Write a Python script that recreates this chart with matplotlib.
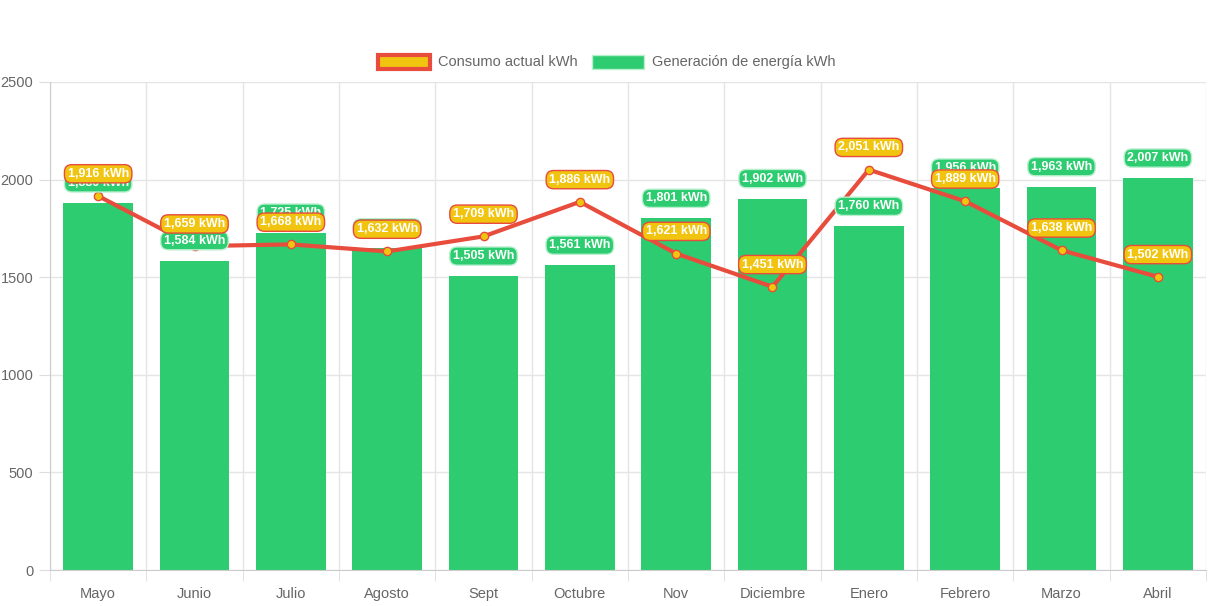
import matplotlib.pyplot as plt
from matplotlib.patches import Patch

meses = ['Mayo', 'Junio', 'Julio', 'Agosto', 'Sept', 'Octubre', 'Nov',
         'Diciembre', 'Enero', 'Febrero', 'Marzo', 'Abril']
generacion = [1880, 1584, 1725, 1650, 1505, 1561, 1801, 1902, 1760, 1956, 1963, 2007]
consumo = [1916, 1659, 1668, 1632, 1709, 1886, 1621, 1451, 2051, 1889, 1638, 1502]

verde = '#2ecc71'
rojo = '#e74c3c'
amarillo = '#f1c40f'
gris = '#666666'

plt.rcParams['font.family'] = ['Liberation Sans', 'DejaVu Sans']

fig = plt.figure(figsize=(12.13, 6.06), dpi=100)
ax = fig.add_axes([50 / 1213, 1 - 570 / 606, 1156 / 1213, 488 / 606])

x = list(range(len(meses)))
ax.bar(x, generacion, width=0.72, color=verde, zorder=2)
ax.plot(x, consumo, color=rojo, linewidth=3, zorder=3,
        marker='o', markersize=6, markerfacecolor=amarillo,
        markeredgecolor=rojo, markeredgewidth=1)

# etiquetas de datos (se solapan igual que en el original)
for i, v in enumerate(generacion):
    ax.annotate(f'{v:,} kWh', (i, v), xytext=(0, 14.5), textcoords='offset points',
                ha='center', va='center', color='white', fontsize=9, fontweight='bold',
                zorder=4,
                bbox=dict(boxstyle='round,pad=0.25,rounding_size=0.6', fc=verde,
                          ec='#b8f0cf', lw=1))
for i, v in enumerate(consumo):
    ax.annotate(f'{v:,} kWh', (i, v), xytext=(0, 16), textcoords='offset points',
                ha='center', va='center', color='white', fontsize=9, fontweight='bold',
                zorder=5,
                bbox=dict(boxstyle='round,pad=0.25,rounding_size=0.6', fc=amarillo,
                          ec=rojo, lw=1))

ax.set_xlim(-0.5, len(meses) - 0.5)
ax.set_ylim(0, 2500)
ax.set_yticks([0, 500, 1000, 1500, 2000, 2500])
ax.set_xticks(x)
ax.set_xticklabels(meses)
ax.set_xticks([i - 0.5 for i in range(len(meses) + 1)], minor=True)

ax.grid(True, which='minor', axis='x', color='#e5e5e5', lw=1, zorder=0)
ax.grid(True, which='major', axis='y', color='#e5e5e5', lw=1, zorder=0)
ax.tick_params(axis='x', which='major', length=0, pad=12, labelsize=10.5, labelcolor=gris)
ax.tick_params(axis='x', which='minor', length=8, color='#dddddd')
ax.tick_params(axis='y', length=8, color='#dddddd', pad=4, labelsize=10.5, labelcolor=gris)
for s in ['top', 'right']:
    ax.spines[s].set_visible(False)
for s in ['left', 'bottom']:
    ax.spines[s].set_color('#cccccc')

handles = [Patch(facecolor=amarillo, edgecolor=rojo, linewidth=3, label='Consumo actual kWh'),
           Patch(facecolor=verde, edgecolor='#b8f0cf', label='Generación de energía kWh')]
fig.legend(handles=handles, loc='center', bbox_to_anchor=(0.5, 1 - 62 / 606), ncol=2,
           frameon=False, fontsize=10.5, labelcolor=gris, handlelength=3.6,
           handleheight=1.1, columnspacing=1.0, handletextpad=0.5)

fig.savefig('out.png', dpi=100)
